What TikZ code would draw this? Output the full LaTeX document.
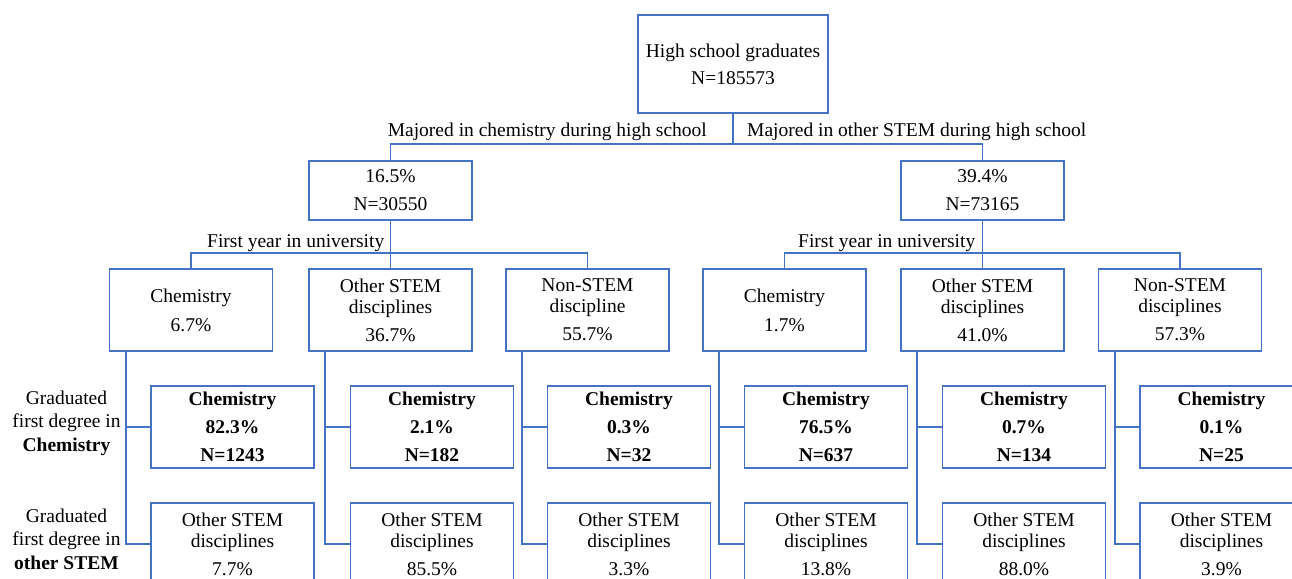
\documentclass[tikz,border=0pt]{standalone}
\usepackage{fontspec}
\setmainfont{Liberation Serif}
\newfontfamily\timesfont{Liberation Serif}
\usepackage{xcolor}
\usetikzlibrary{positioning}
\definecolor{linkblue}{RGB}{68,114,196}

\begin{document}
\begin{tikzpicture}[x=1pt,y=1pt,node distance=117pt]
 \tikzstyle{stepbox}=[rectangle,draw=linkblue,line width=1.6pt,inner sep=0pt,
   align=center,font=\timesfont\fontsize{19.5}{21}\selectfont]
 \tikzstyle{topbox}=[stepbox,minimum width=163pt,minimum height=59pt]
 \tikzstyle{yearbox}=[stepbox,minimum width=163pt,minimum height=82pt]
 \tikzstyle{degbox}=[stepbox,minimum width=163pt,minimum height=82pt]
 \tikzstyle{link}=[draw=linkblue,line width=1.6pt]
 \tikzstyle{note}=[inner sep=0pt,align=center,font=\timesfont\fontsize{19.5}{21}\selectfont]
 \useasboundingbox (0,0) rectangle (1292,-578);
 % high school
 \node (grads) [stepbox,minimum width=190pt,minimum height=98pt] at (733,-64)
   {High school graduates\\[6pt]N=185573};
 \node (chemhs) [topbox,below of=grads,xshift=-342.5pt,yshift=-9.5pt]
   {16.5\%\\[7pt]N=30550};
 \node (stemhs) [topbox,below of=grads,xshift=249.5pt,yshift=-9.5pt]
   {39.4\%\\[7pt]N=73165};
 \node (majchem) [note,anchor=east] at ([xshift=-26pt,yshift=-18pt]grads.south)
   {Majored in chemistry during high school};
 \node (majstem) [note,anchor=west] at ([xshift=14pt,yshift=-18pt]grads.south)
   {Majored in other STEM during high school};
 % first year, chemistry in high school
 \node (chemL) [yearbox,below of=chemhs,xshift=-199.5pt,yshift=-2.5pt]
   {Chemistry\\[8pt]6.7\%};
 \node (stemL) [yearbox,below of=chemhs,yshift=-2.5pt]
   {Other STEM\\disciplines\\[7pt]36.7\%};
 \node (nonL) [yearbox,below of=chemhs,xshift=197pt,yshift=-2.5pt]
   {Non-STEM\\discipline\\[7pt]55.7\%};
 \node (yearL) [note,anchor=east] at ([xshift=-6pt,yshift=-22pt]chemhs.south)
   {First year in university};
 % first year, other STEM in high school
 \node (chemR) [yearbox,below of=stemhs,xshift=-198pt,yshift=-2.5pt]
   {Chemistry\\[8pt]1.7\%};
 \node (stemR) [yearbox,below of=stemhs,yshift=-2.5pt]
   {Other STEM\\disciplines\\[7pt]41.0\%};
 \node (nonR) [yearbox,below of=stemhs,xshift=197.5pt,yshift=-2.5pt]
   {Non-STEM\\disciplines\\[7pt]57.3\%};
 \node (yearR) [note,anchor=east] at ([xshift=-7pt,yshift=-22pt]stemhs.south)
   {First year in university};
 % first degree in chemistry
 \node (chemLc) [degbox,below of=chemL,xshift=41.5pt]
   {\textbf{Chemistry}\\[7pt]\textbf{82.3\%}\\[7pt]\textbf{N=1243}};
 \node (stemLc) [degbox,below of=stemL,xshift=41.5pt]
   {\textbf{Chemistry}\\[7pt]\textbf{2.1\%}\\[7pt]\textbf{N=182}};
 \node (nonLc) [degbox,below of=nonL,xshift=41.5pt]
   {\textbf{Chemistry}\\[7pt]\textbf{0.3\%}\\[7pt]\textbf{N=32}};
 \node (chemRc) [degbox,below of=chemR,xshift=41.5pt]
   {\textbf{Chemistry}\\[7pt]\textbf{76.5\%}\\[7pt]\textbf{N=637}};
 \node (stemRc) [degbox,below of=stemR,xshift=41.5pt]
   {\textbf{Chemistry}\\[7pt]\textbf{0.7\%}\\[7pt]\textbf{N=134}};
 \node (nonRc) [degbox,below of=nonR,xshift=41.5pt]
   {\textbf{Chemistry}\\[7pt]\textbf{0.1\%}\\[7pt]\textbf{N=25}};
 % first degree in other STEM
 \node (chemLo) [degbox,below of=chemLc] {Other STEM\\disciplines\\[7pt]7.7\%};
 \node (stemLo) [degbox,below of=stemLc] {Other STEM\\disciplines\\[7pt]85.5\%};
 \node (nonLo) [degbox,below of=nonLc] {Other STEM\\disciplines\\[7pt]3.3\%};
 \node (chemRo) [degbox,below of=chemRc] {Other STEM\\disciplines\\[7pt]13.8\%};
 \node (stemRo) [degbox,below of=stemRc] {Other STEM\\disciplines\\[7pt]88.0\%};
 \node (nonRo) [degbox,below of=nonRc] {Other STEM\\disciplines\\[7pt]3.9\%};
 % row labels
 \node (gradchem) [note,left of=chemLc,node distance=166pt,yshift=4pt]
   {Graduated\\[2.5pt]first degree in\\[2.5pt]\textbf{Chemistry}};
 \node (gradstem) [note,left of=chemLo,node distance=166pt,yshift=5pt]
   {Graduated\\[2.5pt]first degree in\\[2.5pt]\textbf{other STEM}};
 % connectors
 \coordinate (split0) at ([yshift=-30pt]grads.south);
 \draw[link] (grads.south) -- (split0);
 \draw[link] (chemhs.north) |- (split0) -| (stemhs.north);
 \coordinate (splitL) at ([yshift=-32pt]chemhs.south);
 \draw[link] (chemhs.south) -- (stemL.north);
 \draw[link] (chemL.north) |- (splitL) -| (nonL.north);
 \coordinate (splitR) at ([yshift=-32pt]stemhs.south);
 \draw[link] (stemhs.south) -- (stemR.north);
 \draw[link] (chemR.north) |- (splitR) -| (nonR.north);
 \draw[link] ([xshift=17pt]chemL.south west) |- (chemLc.west);
 \draw[link] ([xshift=17pt]chemL.south west) |- (chemLo.west);
 \draw[link] ([xshift=17pt]stemL.south west) |- (stemLc.west);
 \draw[link] ([xshift=17pt]stemL.south west) |- (stemLo.west);
 \draw[link] ([xshift=17pt]nonL.south west) |- (nonLc.west);
 \draw[link] ([xshift=17pt]nonL.south west) |- (nonLo.west);
 \draw[link] ([xshift=17pt]chemR.south west) |- (chemRc.west);
 \draw[link] ([xshift=17pt]chemR.south west) |- (chemRo.west);
 \draw[link] ([xshift=17pt]stemR.south west) |- (stemRc.west);
 \draw[link] ([xshift=17pt]stemR.south west) |- (stemRo.west);
 \draw[link] ([xshift=17pt]nonR.south west) |- (nonRc.west);
 \draw[link] ([xshift=17pt]nonR.south west) |- (nonRo.west);
\end{tikzpicture}
\end{document}
